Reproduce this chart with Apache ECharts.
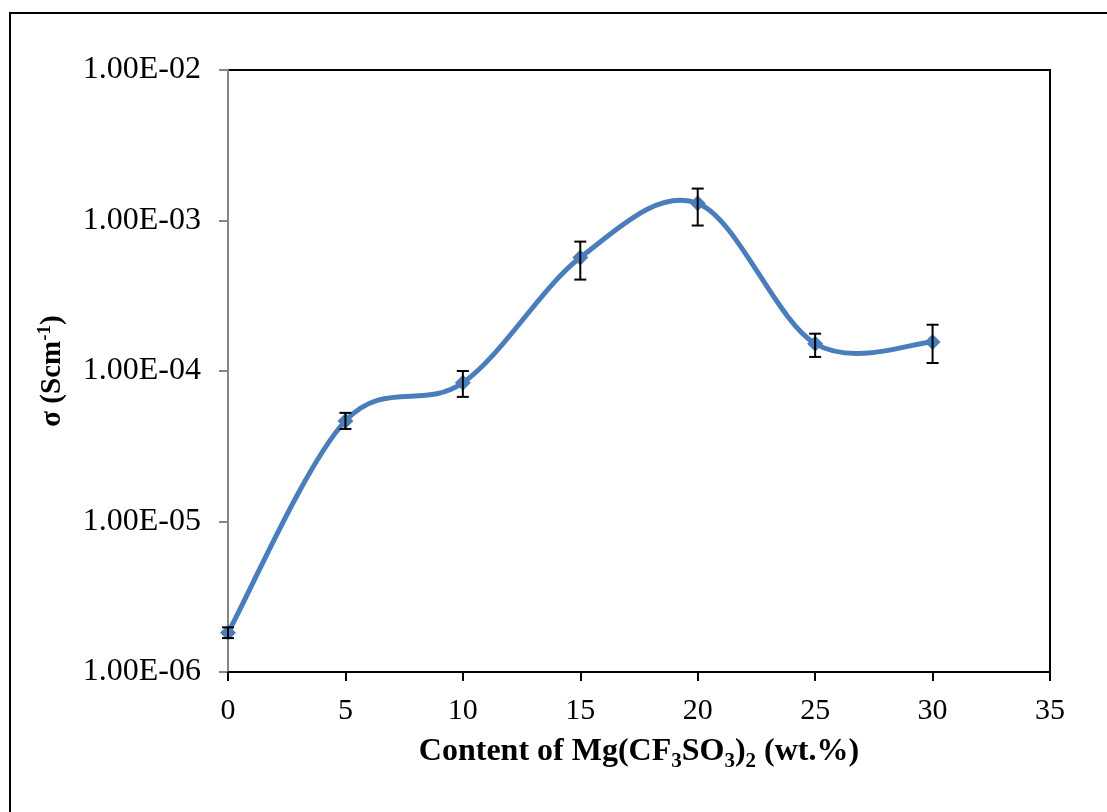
<!DOCTYPE html>
<html><head><meta charset="utf-8">
<script src="https://cdn.jsdelivr.net/npm/echarts@6/dist/echarts.min.js"></script>
<style>html,body{margin:0;padding:0;background:#fff}#c{width:1107px;height:812px}</style>
</head><body><div id="c"></div>
<script>
// Data
const content = [0, 5, 10, 15, 20, 25, 30];               // wt.% Mg(CF3SO3)2
const sigma = [1.82e-6, 4.66e-5, 8.35e-5, 5.67e-4, 1.30e-3, 1.52e-4, 1.56e-4]; // S cm^-1
const errLow = [1.68e-6, 4.12e-5, 6.73e-5, 4.05e-4, 9.26e-4, 1.24e-4, 1.13e-4];
const errHigh = [1.98e-6, 5.27e-5, 1.00e-4, 7.24e-4, 1.63e-3, 1.77e-4, 2.03e-4];
const xTicks = [0, 5, 10, 15, 20, 25, 30, 35];
const yTickLabels = ['1.00E-06', '1.00E-05', '1.00E-04', '1.00E-03', '1.00E-02'];

const serif = '"Liberation Serif","Times New Roman",serif';
const chart = echarts.init(document.getElementById('c'), null, {renderer: 'canvas'});
const lineData = content.map((x, i) => [x, sigma[i]]);
const errData = content.map((x, i) => [x, errLow[i], errHigh[i]]);

chart.setOption({
  backgroundColor: '#fff',
  animation: false,
  graphic: [{
    type: 'rect', shape: {x: 10, y: 13, width: 1120, height: 820},
    style: {fill: 'none', stroke: '#000', lineWidth: 2}, z: -1
  }],
  grid: {left: 228, top: 70, right: 57, bottom: 140, show: true, borderColor: '#000', borderWidth: 2, backgroundColor: 'transparent'},
  xAxis: {
    type: 'value', min: 0, max: 35, interval: 5,
    axisLine: {show: true, onZero: false, lineStyle: {color: '#000', width: 2}},
    axisTick: {show: true, length: 9, lineStyle: {color: '#000', width: 2}},
    splitLine: {show: false},
    axisLabel: {margin: 24, color: '#000', fontFamily: serif, fontSize: 30,
      formatter: v => xTicks.includes(v) ? String(v) : ''},
    name: '{b|Content of Mg(CF}{s|3}{b|SO}{s|3}{b|)}{s|2}{b| (wt.%)}',
    nameLocation: 'middle', nameGap: 60,
    nameTextStyle: {
      rich: {
        b: {fontFamily: serif, fontWeight: 'bold', fontSize: 32, color: '#000', lineHeight: 40, verticalAlign: 'middle'},
        s: {fontFamily: serif, fontWeight: 'bold', fontSize: 21, color: '#000', lineHeight: 21, verticalAlign: 'bottom'}
      }
    }
  },
  yAxis: {
    type: 'log', logBase: 10, min: 1e-6, max: 1e-2,
    axisLine: {show: true, lineStyle: {color: '#868686', width: 2}},
    axisTick: {show: true, length: 9, lineStyle: {color: '#868686', width: 2}},
    minorTick: {show: false},
    splitLine: {show: false},
    axisLabel: {margin: 27, color: '#000', fontFamily: serif, fontSize: 32,
      formatter: v => {
        const e = Math.round(Math.log10(v));
        return yTickLabels[e + 6] || '';
      }},
    name: '{b|σ (Scm}{p|-1}{b|)}',
    nameLocation: 'middle', nameGap: 158, nameRotate: 90,
    nameTextStyle: {
      rich: {
        b: {fontFamily: serif, fontWeight: 'bold', fontSize: 29, color: '#000', lineHeight: 34, verticalAlign: 'middle'},
        p: {fontFamily: serif, fontWeight: 'bold', fontSize: 19, color: '#000', lineHeight: 19, verticalAlign: 'top'}
      }
    }
  },
  series: [
    {
      // smooth curve through the data points (Catmull-Rom style, like the original spreadsheet chart)
      type: 'custom', data: lineData, z: 2, silent: true,
      renderItem: (params, api) => {
        if (params.dataIndex !== 0) return null;
        const pts = lineData.map(d => api.coord(d));
        const n = pts.length;
        const P = i => pts[Math.max(0, Math.min(n - 1, i))];
        let d = 'M' + pts[0][0] + ' ' + pts[0][1];
        for (let i = 0; i < n - 1; i++) {
          const p0 = P(i - 1), p1 = P(i), p2 = P(i + 1), p3 = P(i + 2);
          const c1 = [p1[0] + (p2[0] - p0[0]) / 6, p1[1] + (p2[1] - p0[1]) / 6];
          const c2 = [p2[0] - (p3[0] - p1[0]) / 6, p2[1] - (p3[1] - p1[1]) / 6];
          d += ' C' + c1[0] + ' ' + c1[1] + ' ' + c2[0] + ' ' + c2[1] + ' ' + p2[0] + ' ' + p2[1];
        }
        return {type: 'path', shape: {pathData: d},
          style: {fill: 'none', stroke: '#4a7ebb', lineWidth: 5, lineJoin: 'round', lineCap: 'round'}};
      }
    },
    {
      type: 'line', data: lineData,
      symbol: 'diamond', symbolSize: 16,
      lineStyle: {width: 0, opacity: 0},
      itemStyle: {color: '#4a7ebb'},
      z: 3
    },
    {
      type: 'custom', data: errData, z: 4,
      renderItem: (params, api) => {
        const x = api.value(0);
        const lo = api.coord([x, api.value(1)]);
        const hi = api.coord([x, api.value(2)]);
        const hw = 6;
        const st = {stroke: '#000', lineWidth: 2};
        return {type: 'group', children: [
          {type: 'line', shape: {x1: lo[0], y1: lo[1], x2: hi[0], y2: hi[1]}, style: st},
          {type: 'line', shape: {x1: lo[0] - hw, y1: lo[1], x2: lo[0] + hw, y2: lo[1]}, style: st},
          {type: 'line', shape: {x1: hi[0] - hw, y1: hi[1], x2: hi[0] + hw, y2: hi[1]}, style: st}
        ]};
      }
    }
  ]
});
</script></body></html>
